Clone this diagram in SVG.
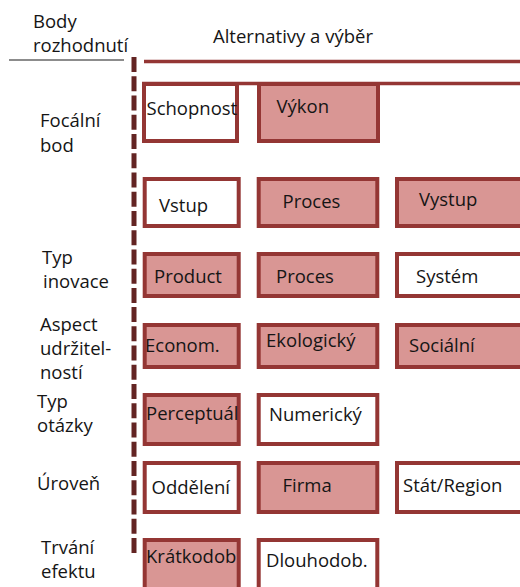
<svg xmlns="http://www.w3.org/2000/svg" width="520" height="587" viewBox="0 0 520 587">
  <style>
    text { font-family: "Open Sans", "Liberation Sans", sans-serif; font-size: 18.5px; fill: #151515; }
    .box { stroke: #943634; stroke-width: 4; }
    .on { fill: #D99694; }
    .off { fill: #FFFFFF; }
    .rule { stroke: #943634; stroke-width: 3.5; fill: none; }
    .spine { stroke: #632423; stroke-width: 5; stroke-dasharray: 15 4.24; fill: none; }
    .head { stroke: #666666; stroke-width: 1.5; fill: none; }
  </style>

  <!-- header and separator lines -->
  <g id="connectors">
    <line class="head" x1="9" y1="60" x2="124" y2="60"/>
    <line class="rule" x1="144" y1="61.5" x2="520" y2="61.5"/>
    <line class="rule" x1="142" y1="83.5" x2="520" y2="83.5" stroke-width="3"/>
    <line class="spine" x1="134" y1="57" x2="134" y2="553"/>
  </g>

  <!-- headings -->
  <g id="heading-points">
    <text x="33" y="28">Body</text>
    <text x="33" y="51.5">rozhodnutí</text>
  </g>
  <g id="heading-alternatives">
    <text x="213" y="42.5">Alternativy a výběr</text>
  </g>

  <!-- row labels -->
  <g id="label-focal">
    <text x="40" y="127">Focální</text>
    <text x="40" y="151.5">bod</text>
  </g>
  <g id="label-innovation">
    <text x="42" y="264">Typ</text>
    <text x="43" y="288">inovace</text>
  </g>
  <g id="label-sustainability">
    <text x="40" y="330.5">Aspect</text>
    <text x="40" y="355">udržitel-</text>
    <text x="40" y="378.5">ností</text>
  </g>
  <g id="label-question">
    <text x="37" y="408">Typ</text>
    <text x="37" y="431.5">otázky</text>
  </g>
  <g id="label-level">
    <text x="37" y="490">Úroveň</text>
  </g>
  <g id="label-duration">
    <text x="41" y="553.5">Trvání</text>
    <text x="41" y="578">efektu</text>
  </g>

  <!-- row 1 -->
  <g id="schopnost">
    <rect class="box off" x="144" y="84" width="93" height="57"/>
    <text x="146.5" y="115">Schopnost</text>
  </g>
  <g id="vykon">
    <rect class="box on" x="259" y="84" width="119" height="57"/>
    <text x="276.5" y="112.5">Výkon</text>
  </g>

  <!-- row 2 -->
  <g id="vstup">
    <rect class="box off" x="144.7" y="179" width="94" height="47"/>
    <text x="159" y="211.5">Vstup</text>
  </g>
  <g id="proces-1">
    <rect class="box on" x="258.7" y="179" width="118.6" height="47"/>
    <text x="282.5" y="207.5">Proces</text>
  </g>
  <g id="vystup">
    <rect class="box on" x="397" y="179" width="200" height="47"/>
    <text x="419" y="206">Vystup</text>
  </g>

  <!-- row 3 -->
  <g id="product">
    <rect class="box on" x="144.7" y="254" width="94" height="42"/>
    <text x="154" y="283">Product</text>
  </g>
  <g id="proces-2">
    <rect class="box on" x="258.7" y="254" width="118.6" height="42"/>
    <text x="276" y="283">Proces</text>
  </g>
  <g id="system">
    <rect class="box off" x="397" y="254" width="200" height="42"/>
    <text x="416" y="283">Systém</text>
  </g>

  <!-- row 4 -->
  <g id="econom">
    <rect class="box on" x="144.7" y="325" width="94" height="42"/>
    <text x="145" y="351.5">Econom.</text>
  </g>
  <g id="ekologicky">
    <rect class="box on" x="258.7" y="325" width="118.6" height="42"/>
    <text x="266" y="346.5">Ekologický</text>
  </g>
  <g id="socialni">
    <rect class="box on" x="397" y="325" width="200" height="42"/>
    <text x="409" y="351.5">Sociální</text>
  </g>

  <!-- row 5 -->
  <g id="perceptual">
    <rect class="box on" x="144.7" y="395" width="94" height="49"/>
    <text x="146" y="420">Perceptuál</text>
  </g>
  <g id="numericky">
    <rect class="box off" x="258.7" y="395" width="118.6" height="49"/>
    <text x="269" y="420.5">Numerický</text>
  </g>

  <!-- row 6 -->
  <g id="oddeleni">
    <rect class="box off" x="144.7" y="463" width="94" height="49"/>
    <text x="151.5" y="494">Oddělení</text>
  </g>
  <g id="firma">
    <rect class="box on" x="258.7" y="463" width="118.6" height="49"/>
    <text x="282.5" y="491.5">Firma</text>
  </g>
  <g id="stat-region">
    <rect class="box off" x="397" y="463" width="200" height="49"/>
    <text x="403" y="491.5">Stát/Region</text>
  </g>

  <!-- row 7 -->
  <g id="kratkodob">
    <rect class="box on" x="144.7" y="540" width="94" height="70"/>
    <text x="146" y="563">Krátkodob</text>
  </g>
  <g id="dlouhodob">
    <rect class="box off" x="258.7" y="540" width="118.6" height="70"/>
    <text x="266" y="566.5">Dlouhodob.</text>
  </g>
</svg>
